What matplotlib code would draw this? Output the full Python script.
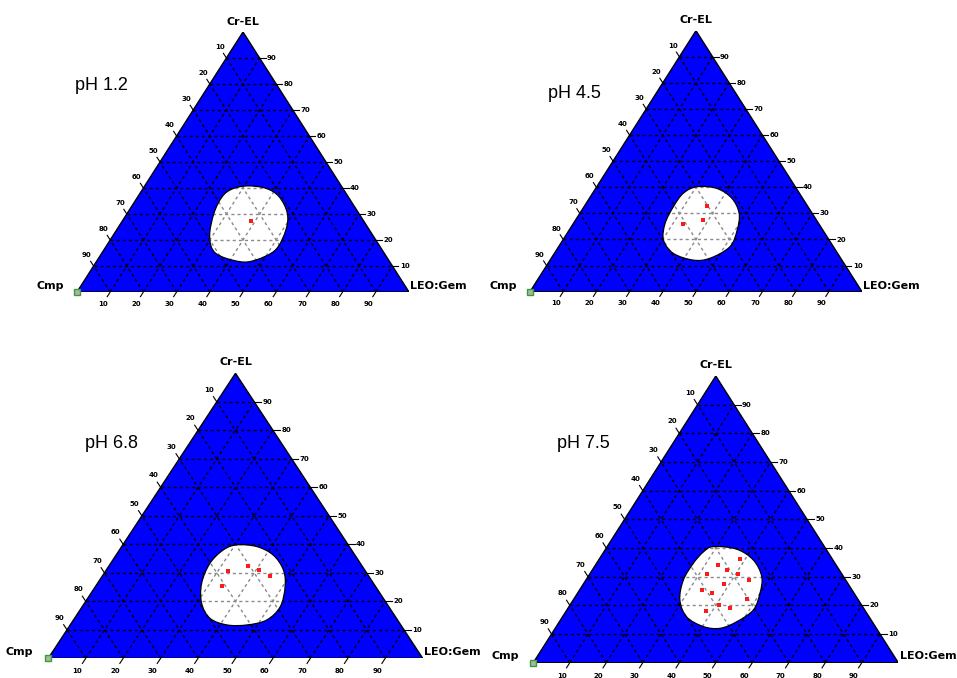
import matplotlib.pyplot as plt
import numpy as np
from matplotlib.collections import LineCollection
from matplotlib.patches import PathPatch, Polygon
from matplotlib.path import Path

PH_LABELS = ["pH 1.2", "pH 4.5", "pH 6.8", "pH 7.5"]
GRID_STEPS = [10, 20, 30, 40, 50, 60, 70, 80, 90]

# Formulation points, as (LEO:Gem %, Cr-EL %); Cmp is the remainder
PH12_LEO = [38.8]
PH12_CREL = [27.4]
PH45_LEO = [36.9, 38.5, 33.2]
PH45_CREL = [32.8, 27.5, 25.9]
PH68_LEO = [32.7, 37.2, 40.8, 44.7, 33.7]
PH68_CREL = [30.7, 32.4, 31.0, 29.0, 25.5]
PH75_LEO = [38.6, 33.5, 37.0, 40.5, 32.2, 44.6, 38.6, 33.4, 36.9, 47.4, 40.9, 44.4, 38.3]
PH75_CREL = [36.2, 34.1, 32.4, 31.0, 30.9, 29.0, 27.3, 25.4, 24.2, 22.1, 20.2, 19.1, 18.1]

# Outline of the clear (white) region, same composition axes
REGION12_LEO = [30.8, 36.9, 42.5, 48.2, 51.0, 51.7, 47.7, 43.0, 34.3, 29.3, 26.1, 25.4, 26.9]
REGION12_CREL = [40.8, 39.9, 36.7, 30.3, 23.8, 16.2, 12.3, 11.7, 14.9, 21.3, 30.3, 36.7, 39.6]
REGION45_LEO = [30.1, 36.4, 42.9, 48.0, 50.6, 51.6, 47.8, 43.1, 35.8, 30.3, 27.6, 26.9, 27.3]
REGION45_CREL = [40.2, 39.6, 35.8, 30.0, 23.6, 17.2, 12.8, 12.1, 14.7, 19.8, 26.2, 32.6, 37.7]
REGION68_LEO = [30.4, 36.1, 42.0, 47.3, 50.7, 52.9, 51.6, 47.2, 41.9, 36.2, 31.3, 27.8, 26.5, 27.7]
REGION68_CREL = [39.8, 39.2, 36.2, 31.0, 25.1, 18.1, 13.4, 11.7, 11.7, 14.0, 19.3, 26.3, 33.3, 38.0]
REGION75_LEO = [29.1, 35.9, 42.4, 47.6, 50.0, 51.1, 48.6, 45.2, 40.3, 34.0, 29.2, 26.7, 26.5, 27.3]
REGION75_CREL = [40.5, 39.6, 35.8, 30.0, 24.2, 18.4, 14.3, 12.0, 12.6, 16.0, 21.9, 28.8, 34.7, 38.7]

PANELS = [
    (PH12_LEO, PH12_CREL, REGION12_LEO, REGION12_CREL),
    (PH45_LEO, PH45_CREL, REGION45_LEO, REGION45_CREL),
    (PH68_LEO, PH68_CREL, REGION68_LEO, REGION68_CREL),
    (PH75_LEO, PH75_CREL, REGION75_LEO, REGION75_CREL),
]

# triangle placement in pixels: left corner x, base y, width, height
FIG_W, FIG_H = 957, 678
TRI_BOXES = [
    (77, 292, 332, 260),
    (530, 291.7, 332, 261),
    (48.3, 658.3, 374.4, 285),
    (533.3, 662.7, 365, 286.7),
]
PH_POS = [(-0.006, 0.796), (0.054, 0.761), (0.098, 0.755), (0.065, 0.766)]

BLUE = "#0000ff"
GRID_DASH = (0, (2.2, 2.2))
TICK_FONT = dict(fontsize=5, fontweight="bold", family="DejaVu Sans")
CORNER_FONT = dict(fontsize=8, fontweight="bold", family="DejaVu Sans")


def ternary_xy(leo, crel):
    leo = np.asarray(leo, float) / 100
    crel = np.asarray(crel, float) / 100
    return leo + crel / 2, crel


def smooth_closed_path(x, y):
    # closed Catmull-Rom outline written as cubic Bezier pieces
    pts = np.column_stack([x, y])
    n = len(pts)
    verts = [pts[0]]
    codes = [Path.MOVETO]
    for i in range(n):
        p0, p1, p2, p3 = pts[i - 1], pts[i], pts[(i + 1) % n], pts[(i + 2) % n]
        verts += [p1 + (p2 - p0) / 6, p2 - (p3 - p1) / 6, p2]
        codes += [Path.CURVE4] * 3
    verts.append(pts[0])
    codes.append(Path.CLOSEPOLY)
    return Path(verts, codes)


def grid_segments():
    segs = []
    for v in GRID_STEPS:
        f = v / 100
        segs.append([(f / 2, f), (1 - f / 2, f)])              # Cr-EL constant
        segs.append([(f, 0), (f + (1 - f) / 2, 1 - f)])        # LEO:Gem constant
        segs.append([(1 - f, 0), ((1 - f) / 2, 1 - f)])        # Cmp constant
    return segs


def draw_panel(ax, label, label_pos, leo, crel, reg_leo, reg_crel):
    ax.set_xlim(0, 1)
    ax.set_ylim(0, 1)
    ax.axis("off")

    tri = Polygon([(0, 0), (1, 0), (0.5, 1)], closed=True, facecolor=BLUE,
                  edgecolor="black", linewidth=1.0, zorder=1)
    ax.add_patch(tri)

    segs = grid_segments()
    ax.add_collection(LineCollection(segs, colors="black", linewidths=1.0,
                                     linestyles=GRID_DASH, zorder=2))

    rx, ry = ternary_xy(reg_leo, reg_crel)
    region_path = smooth_closed_path(rx, ry)
    region = PathPatch(region_path, facecolor="white", edgecolor="none", zorder=3)
    ax.add_patch(region)
    inner = LineCollection(segs, colors="#8a8a8a", linewidths=1.0,
                           linestyles=GRID_DASH, zorder=4)
    ax.add_collection(inner)
    inner.set_clip_path(region)
    ax.add_patch(PathPatch(region_path, facecolor="none", edgecolor="black",
                           linewidth=0.9, zorder=5))

    px, py = ternary_xy(leo, crel)
    ax.plot(px, py, linestyle="none", marker="s", markersize=3.2,
            color="#ff1a1a", markeredgewidth=0, zorder=6)

    for v in GRID_STEPS:
        f = v / 100
        # right edge: Cr-EL
        xr = 1 - f / 2
        ax.plot([xr, xr + 0.018], [f, f], color="black", lw=0.8, clip_on=False)
        ax.text(xr + 0.022, f, str(v), ha="left", va="center", **TICK_FONT)
        # bottom edge: LEO:Gem
        ax.plot([f, f - 0.009], [0, -0.018], color="black", lw=0.8, clip_on=False)
        ax.text(f - 0.022, -0.045, str(v), ha="center", va="center", **TICK_FONT)
        # left edge: Cmp
        xl = f / 2
        ax.plot([xl, xl - 0.009], [f, f + 0.018], color="black", lw=0.8, clip_on=False)
        ax.text(xl - 0.02, f + 0.042, str(100 - v), ha="center", va="center", **TICK_FONT)

    ax.plot([0], [0], marker="s", markersize=5, markerfacecolor="#a8b8a0",
            markeredgecolor="#3c9a3c", markeredgewidth=1, clip_on=False, zorder=7)

    ax.text(0.5, 1.04, "Cr-EL", ha="center", va="center", **CORNER_FONT)
    ax.text(-0.04, 0.023, "Cmp", ha="right", va="center", **CORNER_FONT)
    ax.text(1.004, 0.023, "LEO:Gem", ha="left", va="center", **CORNER_FONT)

    ax.text(label_pos[0], label_pos[1], label, ha="left", va="center",
            fontsize=13, family="Liberation Sans")


fig = plt.figure(figsize=(FIG_W / 100, FIG_H / 100), dpi=100)
fig.patch.set_facecolor("white")

for box, label, pos, panel in zip(TRI_BOXES, PH_LABELS, PH_POS, PANELS):
    x0, yb, w, h = box
    ax = fig.add_axes([x0 / FIG_W, 1 - yb / FIG_H, w / FIG_W, h / FIG_H])
    draw_panel(ax, label, pos, *panel)

fig.savefig("out.png", dpi=100, facecolor="white")
